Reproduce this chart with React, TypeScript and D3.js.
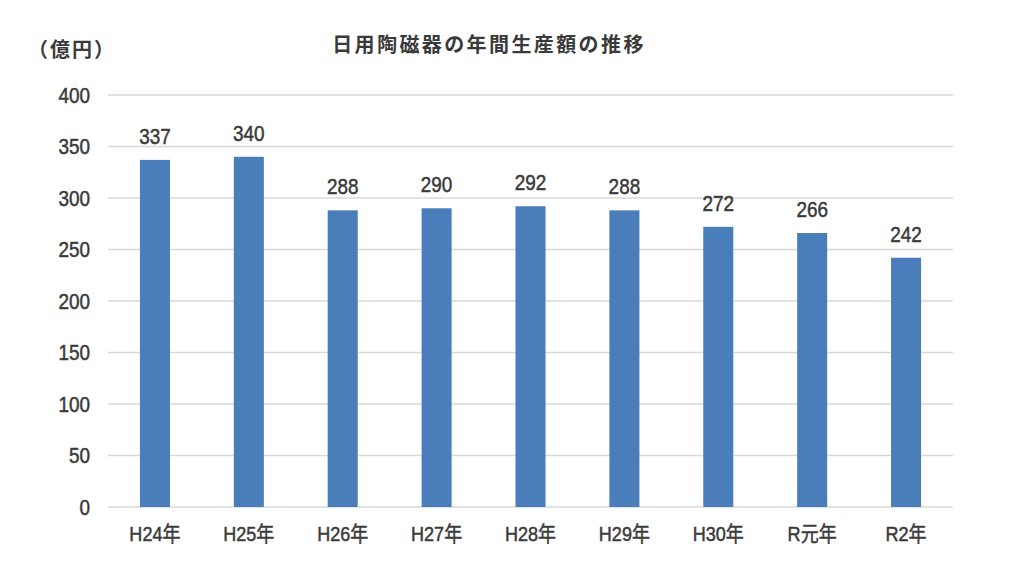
import { useEffect, useRef } from "react";
import * as d3 from "d3";

const categories = ["H24年", "H25年", "H26年", "H27年", "H28年", "H29年", "H30年", "R元年", "R2年"];
const values = [337, 340, 288, 290, 292, 288, 272, 266, 242];
const yTicks = [0, 50, 100, 150, 200, 250, 300, 350, 400];

const W = 1024;
const H = 562;
const PLOT = { left: 108, right: 953, top: 95, bottom: 507 };
const FONT = "'Liberation Sans', 'Noto Sans CJK JP', sans-serif";
const CJK = "'Noto Sans CJK JP', sans-serif";
const TEXT = "#3a3a3a";
const BAR = "#4a7ebb";
const SX = 0.86; // narrow the Latin glyphs, the source used a condensed face

export default function App() {
  const svgRef = useRef<SVGSVGElement | null>(null);

  useEffect(() => {
    const svg = d3.select(svgRef.current);
    svg.selectAll("*").remove();

    const x = d3
      .scaleBand<string>()
      .domain(categories)
      .range([PLOT.left, PLOT.right])
      .paddingInner(0.68)
      .paddingOuter(0.34);
    const y = d3.scaleLinear().domain([0, 400]).range([PLOT.bottom, PLOT.top]);

    svg.append("rect").attr("width", W).attr("height", H).attr("fill", "#fff");

    // gridlines
    svg
      .selectAll("line.grid")
      .data(yTicks)
      .join("line")
      .attr("x1", PLOT.left)
      .attr("x2", PLOT.right)
      .attr("y1", (d) => y(d))
      .attr("y2", (d) => y(d))
      .attr("stroke", "#d9d9d9")
      .attr("stroke-width", 1.3);

    const label = (sel: d3.Selection<any, any, any, any>, size: number) =>
      sel
        .attr("fill", TEXT)
        .attr("stroke", TEXT)
        .attr("stroke-width", 0.5)
        .attr("font-family", FONT)
        .attr("font-size", size);

    // y tick labels
    svg
      .selectAll("text.ytick")
      .data(yTicks)
      .join("text")
      .attr("transform", (d) => `translate(90,${y(d) + 7.5}) scale(${SX},1)`)
      .attr("text-anchor", "end")
      .call(label, 22)
      .text((d) => d);

    // bars
    svg
      .selectAll("rect.bar")
      .data(values)
      .join("rect")
      .attr("x", (_, i) => x(categories[i])!)
      .attr("width", x.bandwidth())
      .attr("y", (d) => y(d))
      .attr("height", (d) => y(0) - y(d))
      .attr("fill", BAR);

    // value labels
    svg
      .selectAll("text.val")
      .data(values)
      .join("text")
      .attr(
        "transform",
        (d, i) => `translate(${x(categories[i])! + x.bandwidth() / 2},${y(d) - 16}) scale(${SX},1)`
      )
      .attr("text-anchor", "middle")
      .call(label, 22)
      .text((d) => d);

    // category labels
    svg
      .selectAll("text.cat")
      .data(categories)
      .join("text")
      .attr("transform", (d) => `translate(${x(d)! + x.bandwidth() / 2},541) scale(${SX},1)`)
      .attr("text-anchor", "middle")
      .call(label, 21)
      .text((d) => d);

    // title and unit
    svg
      .append("text")
      .attr("x", 489)
      .attr("y", 52)
      .attr("text-anchor", "middle")
      .attr("fill", TEXT)
      .attr("font-family", CJK)
      .attr("font-weight", "bold")
      .attr("font-size", 20)
      .attr("letter-spacing", 2.4)
      .text("日用陶磁器の年間生産額の推移");

    svg
      .append("text")
      .attr("x", 72)
      .attr("y", 57)
      .attr("text-anchor", "middle")
      .attr("fill", TEXT)
      .attr("font-family", CJK)
      .attr("font-weight", "bold")
      .attr("font-size", 20)
      .attr("letter-spacing", 2)
      .text("（億円）");
  }, []);

  return (
    <svg
      ref={svgRef}
      width={W}
      height={H}
      viewBox={`0 0 ${W} ${H}`}
      style={{ position: "absolute", left: 0, top: 0, display: "block" }}
    />
  );
}
